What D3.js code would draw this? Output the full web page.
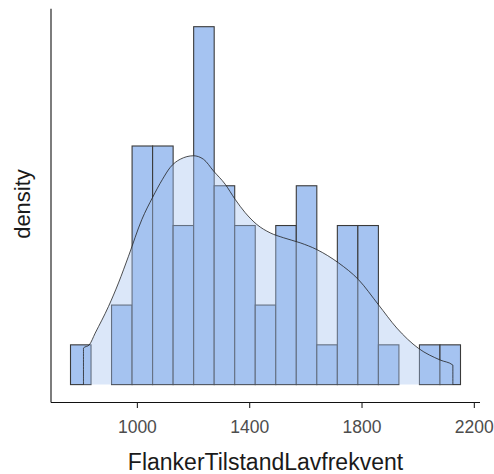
<!DOCTYPE html>
<html>
<head>
<meta charset="utf-8">
<script src="https://cdn.jsdelivr.net/npm/d3@7"></script>
<style>
  html, body { margin: 0; padding: 0; background: #fff; }
  svg { display: block; }
  text { font-family: Arial, "Liberation Sans", sans-serif; }
</style>
</head>
<body>
<svg id="chart" width="494" height="474"></svg>
<script>
// Histogram of FlankerTilstandLavfrekvent (n = 60) with a kernel density overlay.
const sampleSize = 60;
const binStart = 763.6;
const binWidth = 73.1;
const binCounts = [1, 0, 2, 6, 6, 4, 9, 5, 4, 2, 4, 5, 1, 4, 4, 1, 0, 1, 1];

// Density estimate (x value, density)
const densityX = [809.8, 830, 851.5, 898.9, 934.5, 970.1, 1017.8, 1055.5, 1091.2, 1118.6,
  1154.2, 1201.5, 1237.2, 1272.8, 1314.4, 1350, 1385.6, 1427.3, 1474.7, 1522,
  1581.5, 1641, 1717.9, 1789.1, 1860.3, 1925.8, 2002.7, 2080, 2125.3];
const densityY = [0.000210, 0.000227, 0.000295, 0.000448, 0.000583, 0.000736, 0.000947, 0.001072, 0.001177, 0.001245,
  0.001292, 0.001312, 0.001292, 0.001225, 0.001149, 0.001062, 0.000986, 0.000918, 0.000870, 0.000842,
  0.000813, 0.000774, 0.000698, 0.000602, 0.000458, 0.000324, 0.000208, 0.000141, 0.000112];

const xTicks = [1000, 1400, 1800, 2200];
const xTitle = "FlankerTilstandLavfrekvent";
const yTitle = "density";

const barFill = "#a5c3f1";
const outline = "#3a3a3a";

const svg = d3.select("#chart");
const panel = { left: 51, right: 480, top: 8.8, bottom: 402.5 };

const bins = binCounts.map((c, i) => ({
  x0: binStart + i * binWidth,
  x1: binStart + (i + 1) * binWidth,
  density: c / (sampleSize * binWidth)
}));

const xMin = binStart, xMax = binStart + binCounts.length * binWidth;
const xPad = (xMax - xMin) * 0.05;
const x = d3.scaleLinear().domain([xMin - xPad, xMax + xPad]).range([panel.left, panel.right]);

const yMax = d3.max(bins, d => d.density);
const y = d3.scaleLinear().domain([-yMax * 0.05, yMax * 1.05]).range([panel.bottom, panel.top]);

// bars
svg.append("g")
  .selectAll("rect")
  .data(bins.filter(b => b.density > 0))
  .join("rect")
  .attr("x", d => x(d.x0))
  .attr("width", d => x(d.x1) - x(d.x0))
  .attr("y", d => y(d.density))
  .attr("height", d => y(0) - y(d.density))
  .attr("fill", barFill)
  .attr("stroke", outline)
  .attr("stroke-width", 1.1);

// density area + outline
const pts = densityX.map((v, i) => [v, densityY[i]]);
const area = d3.area()
  .x(d => x(d[0]))
  .y0(y(0))
  .y1(d => y(d[1]))
  .curve(d3.curveMonotoneX);
svg.append("path")
  .datum(pts)
  .attr("d", area)
  .attr("fill", barFill)
  .attr("fill-opacity", 0.4);

const outlinePts = [[densityX[0], 0], ...pts, [densityX[densityX.length - 1], 0]];
const line = d3.line()
  .x(d => x(d[0]))
  .y(d => y(d[1]))
  .curve(d3.curveMonotoneX);
svg.append("path")
  .datum(outlinePts)
  .attr("d", line)
  .attr("fill", "none")
  .attr("stroke", "#222")
  .attr("stroke-width", 0.8);

// x axis
const xAxis = svg.append("g")
  .attr("transform", `translate(0,${panel.bottom})`)
  .call(d3.axisBottom(x).tickValues(xTicks).tickFormat(d3.format("d")).tickSize(5.5).tickPadding(12.8));
xAxis.select(".domain").attr("d", `M${panel.left},0H${panel.right}`).attr("stroke", "#111").attr("stroke-width", 1.1);
xAxis.selectAll(".tick line").attr("stroke", "#222").attr("stroke-width", 1.1);
xAxis.selectAll(".tick text").attr("fill", "#4d4d4d").attr("font-size", 17.5);

// y axis line only
svg.append("line")
  .attr("x1", panel.left).attr("x2", panel.left)
  .attr("y1", panel.top).attr("y2", panel.bottom)
  .attr("stroke", "#111").attr("stroke-width", 1.1);

// titles
svg.append("text")
  .attr("x", (panel.left + panel.right) / 2)
  .attr("y", 469.5)
  .attr("text-anchor", "middle")
  .attr("font-size", 23)
  .attr("fill", "#1a1a1a")
  .text(xTitle);

svg.append("text")
  .attr("transform", `translate(30,204) rotate(-90)`)
  .attr("text-anchor", "middle")
  .attr("font-size", 22)
  .attr("fill", "#1a1a1a")
  .text(yTitle);
</script>
</body>
</html>
